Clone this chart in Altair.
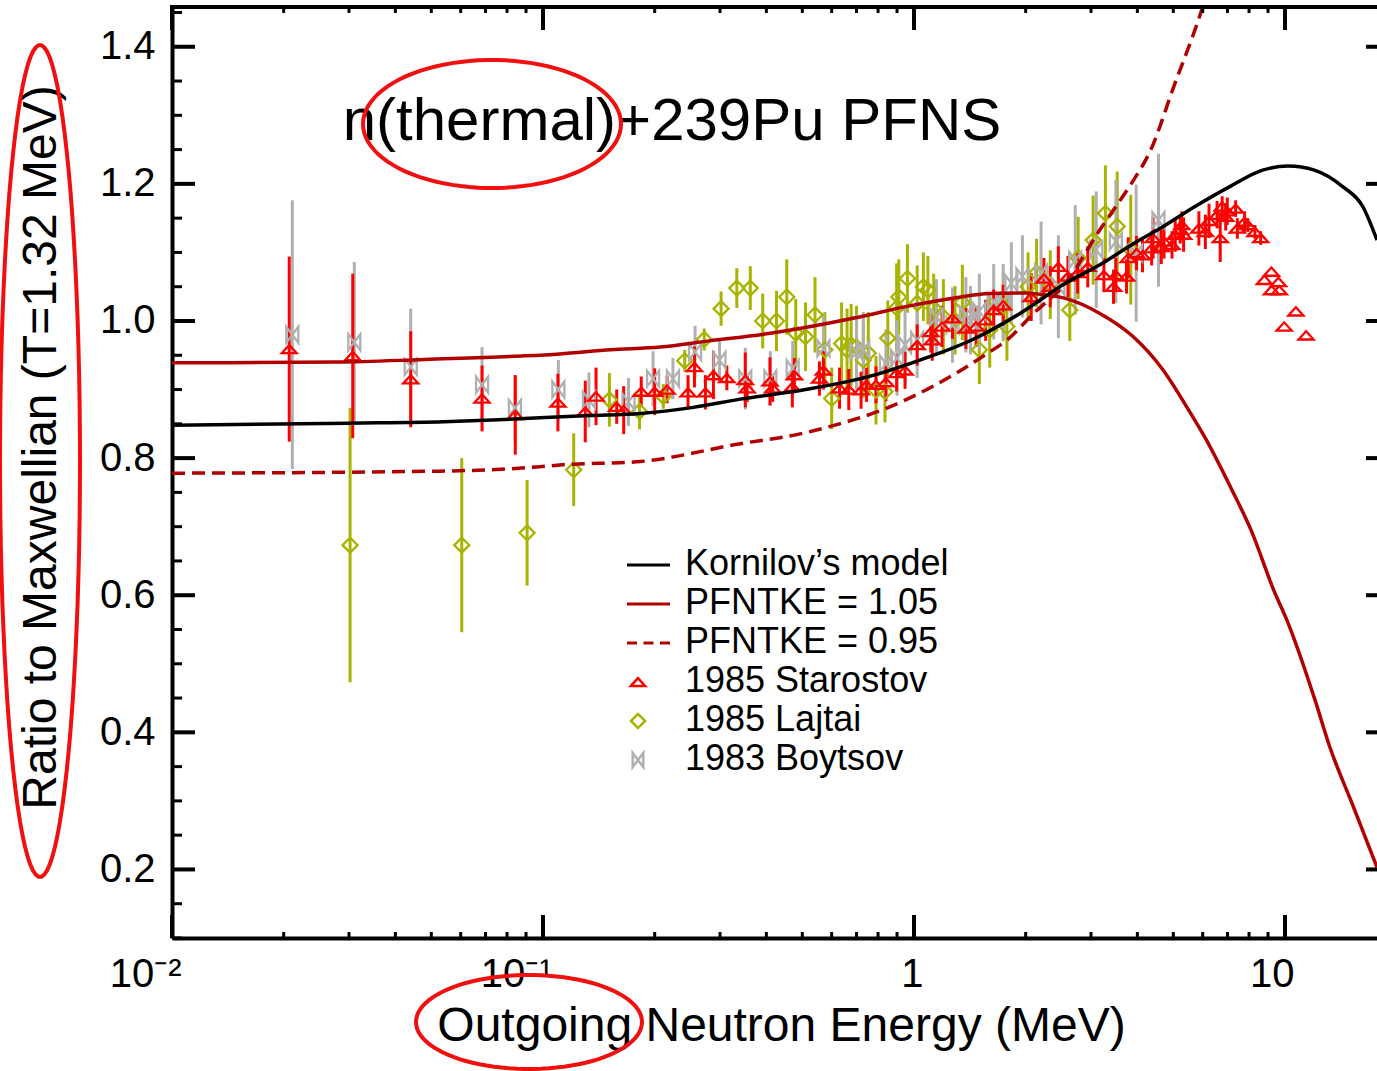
import math
import altair as alt
import pandas as pd

# ---------------- data ----------------
kornilov_E = [0.01, 0.03, 0.054, 0.076, 0.098, 0.134, 0.183, 0.254, 0.34, 0.51, 0.78, 1.0, 1.17, 1.44,
              1.93, 2.56, 3.17, 3.88, 4.7, 5.72, 7.1, 8.7, 10.2, 12.0, 14.3, 16.2, 17.7]
kornilov_R = [0.848, 0.851, 0.853, 0.856, 0.859, 0.862, 0.865, 0.874, 0.886, 0.900, 0.921, 0.940, 0.953, 0.973,
              1.011, 1.055, 1.082, 1.112, 1.138, 1.167, 1.196, 1.220, 1.226, 1.220, 1.196, 1.167, 1.118]

tke105_E = [0.01, 0.028, 0.048, 0.0877, 0.111, 0.152, 0.207, 0.28, 0.41, 0.70, 0.95, 1.30, 1.60, 2.0, 2.26, 2.56,
            3.17, 3.88, 4.67, 5.5, 6.1, 7.2, 8.1, 9.33, 10.2, 12.05, 13.2, 15.3, 17.7]
tke105_R = [0.939, 0.940, 0.944, 0.949, 0.952, 0.958, 0.962, 0.971, 0.982, 1.005, 1.021, 1.034, 1.040, 1.041, 1.038, 1.033,
            1.011, 0.978, 0.930, 0.870, 0.829, 0.753, 0.695, 0.607, 0.559, 0.447, 0.379, 0.291, 0.203]

tke095_E = [0.01, 0.0527, 0.096, 0.111, 0.183, 0.34, 0.49, 0.63, 0.80, 0.95, 1.30, 1.60, 1.78, 2.1,
            2.56, 3.17, 3.5, 3.88, 4.35, 5.0, 6.0, 6.5]
tke095_R = [0.778, 0.781, 0.787, 0.790, 0.795, 0.821, 0.835, 0.850, 0.868, 0.885, 0.924, 0.955, 0.972, 1.011,
            1.055, 1.133, 1.167, 1.203, 1.250, 1.340, 1.458, 1.52]

starostov_E = [0.0207, 0.0307, 0.044, 0.0685, 0.0842, 0.1097, 0.130, 0.139, 0.158, 0.165,
               0.184, 0.200, 0.216, 0.246, 0.256, 0.274, 0.288, 0.313, 0.351, 0.355,
               0.409, 0.416, 0.470, 0.476, 0.556, 0.570, 0.630, 0.667, 0.720, 0.745,
               0.790, 0.840, 0.898, 0.946, 1.02, 1.11, 1.12, 1.19, 1.27, 1.38,
               1.47, 1.56, 1.64, 1.74, 2.07, 2.24, 2.33, 2.45, 2.60, 2.76,
               2.94, 3.25, 3.45, 3.50, 3.74, 3.78, 3.98, 4.13, 4.37, 4.41,
               4.64, 4.72, 4.96, 5.06, 5.22, 5.27, 5.33, 5.86, 6.10, 6.24,
               6.56, 6.69, 6.77, 6.92, 6.99, 7.36, 7.44, 7.78, 7.94, 8.30,
               8.60, 8.80, 9.19, 9.20, 9.60, 9.65, 9.95, 10.7, 11.4]
starostov_R = [0.959, 0.949, 0.915, 0.887, 0.863, 0.881, 0.868, 0.890, 0.875, 0.870,
               0.897, 0.897, 0.900, 0.896, 0.933, 0.896, 0.921, 0.917, 0.914, 0.902,
               0.912, 0.902, 0.904, 0.921, 0.916, 0.928, 0.902, 0.900, 0.899, 0.907,
               0.907, 0.911, 0.924, 0.928, 0.965, 0.984, 0.972, 0.992, 1.004, 0.989,
               0.992, 1.001, 1.016, 1.023, 1.035, 1.062, 1.050, 1.079, 1.065, 1.070,
               1.079, 1.067, 1.050, 1.067, 1.065, 1.092, 1.099, 1.096, 1.106, 1.121,
               1.108, 1.116, 1.111, 1.126, 1.133, 1.140, 1.126, 1.135, 1.130, 1.146,
               1.155, 1.121, 1.167, 1.152, 1.160, 1.164, 1.135, 1.145, 1.140, 1.130,
               1.121, 1.060, 1.072, 1.045, 1.057, 1.045, 0.992, 1.014, 0.979]
starostov_err = [0.135, 0.12, 0.07, 0.048, 0.058, 0.042, 0.045, 0.042, 0.025, 0.035,
                 0.022, 0.034, 0.02, 0.025, 0.03, 0.025, 0.035, 0.018, 0.04, 0.02,
                 0.035, 0.02, 0.03, 0.025, 0.025, 0.028, 0.03, 0.03, 0.027, 0.025,
                 0.027, 0.028, 0.027, 0.027, 0.03, 0.03, 0.03, 0.03, 0.03, 0.03,
                 0.03, 0.03, 0.03, 0.03, 0.035, 0.03, 0.03, 0.03, 0.03, 0.03,
                 0.03, 0.025, 0.025, 0.025, 0.025, 0.03, 0.025, 0.025, 0.025, 0.03,
                 0.025, 0.025, 0.02, 0.025, 0.02, 0.02, 0.025, 0.025, 0.025, 0.025,
                 0.02, 0.035, 0.015, 0.02, 0.02, 0.012, 0.015, 0.015, 0.01, 0.01,
                 0.01, 0, 0, 0, 0, 0, 0, 0, 0]

lajtai_E = [0.0302, 0.0604, 0.0906, 0.121, 0.151, 0.182, 0.211, 0.241, 0.272, 0.302,
            0.333, 0.362, 0.391, 0.426, 0.454, 0.48, 0.51, 0.541, 0.575, 0.60,
            0.638, 0.66, 0.677, 0.70, 0.73, 0.753, 0.79, 0.835, 0.85, 0.898,
            0.91, 0.96, 1.02, 1.06, 1.09, 1.13, 1.20, 1.29, 1.35, 1.50,
            1.60, 1.74, 1.78, 2.03, 2.14, 2.33, 2.63, 2.77, 3.04, 3.28,
            3.53, 3.84]
lajtai_R = [0.673, 0.673, 0.691, 0.783, 0.885, 0.868, 0.890, 0.942, 0.973, 1.018,
            1.048, 1.048, 1.000, 1.000, 1.035, 0.982, 0.977, 1.009, 0.958, 0.887,
            0.967, 0.958, 0.965, 0.962, 0.943, 0.953, 0.899, 0.897, 0.975, 1.019,
            1.035, 1.062, 1.026, 1.050, 1.045, 1.019, 1.006, 1.001, 1.027, 0.958,
            0.987, 1.021, 0.992, 1.050, 1.070, 1.053, 1.016, 1.092, 1.118, 1.157,
            1.138, 1.104]
lajtai_err = [0.20, 0.127, 0.077, 0.053, 0.039, 0.026, 0.018, 0.016, 0.016, 0.025,
              0.029, 0.032, 0.04, 0.044, 0.055, 0.05, 0.05, 0.055, 0.055, 0.045,
              0.06, 0.06, 0.06, 0.06, 0.055, 0.06, 0.05, 0.045, 0.055, 0.065,
              0.055, 0.05, 0.055, 0.05, 0.05, 0.05, 0.055, 0.05, 0.055, 0.05,
              0.055, 0.05, 0.05, 0.05, 0.05, 0.05, 0.045, 0.06, 0.065, 0.07,
              0.08, 0.08]

boytsov_E = [0.0211, 0.031, 0.044, 0.0685, 0.084, 0.11, 0.133, 0.17, 0.198, 0.224,
             0.257, 0.299, 0.351, 0.41, 0.471, 0.57, 0.70, 0.73, 0.84, 0.90,
             0.946, 1.02, 1.15, 1.27, 1.38, 1.42, 1.50, 1.64, 1.74, 1.83,
             1.96, 2.20, 2.45, 2.72, 3.10, 3.50, 3.97, 4.56]
boytsov_R = [0.980, 0.969, 0.933, 0.907, 0.873, 0.900, 0.885, 0.882, 0.916, 0.916,
             0.955, 0.943, 0.916, 0.916, 0.931, 0.960, 0.955, 0.958, 0.938, 0.946,
             0.965, 0.972, 1.006, 0.994, 1.009, 1.001, 1.014, 1.028, 1.028, 1.055,
             1.065, 1.070, 1.050, 1.089, 1.104, 1.116, 1.099, 1.147]
boytsov_err = [0.196, 0.117, 0.085, 0.055, 0.048, 0.043, 0.04, 0.035, 0.04, 0.03,
               0.038, 0.03, 0.045, 0.04, 0.04, 0.05, 0.055, 0.055, 0.05, 0.055,
               0.055, 0.055, 0.055, 0.055, 0.055, 0.05, 0.055, 0.055, 0.055, 0.06,
               0.06, 0.075, 0.075, 0.08, 0.085, 0.09, 0.1, 0.097]

x_major = [0.01, 0.1, 1, 10]
x_major_labels = ["10\u207b\u00b2", "10\u207b\u00b9", "1", "10"]
x_minor = [0.02, 0.03, 0.04, 0.05, 0.06, 0.07, 0.08, 0.09,
           0.2, 0.3, 0.4, 0.5, 0.6, 0.7, 0.8, 0.9,
           2, 3, 4, 5, 6, 7, 8, 9]
y_major = [0.2, 0.4, 0.6, 0.8, 1.0, 1.2, 1.4]
y_minor = [0.1, 0.15, 0.25, 0.3, 0.35, 0.45, 0.5, 0.55, 0.65, 0.7, 0.75, 0.85, 0.9, 0.95,
           1.05, 1.1, 1.15, 1.25, 1.3, 1.35, 1.45]

title_text = "n(thermal)+239Pu PFNS"
x_title = "Outgoing Neutron Energy (MeV)"
y_title = "Ratio to Maxwellian (T=1.32 MeV)"
legend_names = ["Kornilov\u2019s model", "PFNTKE = 1.05", "PFNTKE = 0.95",
                "1985 Starostov", "1985 Lajtai", "1983 Boytsov"]

# ---------------- style ----------------
W, H = 1205, 931
FONT = "Liberation Sans"
BLACK = "#000000"
DRED = "#B00000"
STAR = "#FF0000"
LAJ = "#A8B400"
BOY = "#B0B0B0"
RED_ANN = "#F01010"
TRI = "M -1 0.55 L 0 -0.55 L 1 0.55 Z"
BOW = "M -0.75 -1 L 0.75 1 L 0.75 -1 L -0.75 1 Z"
DASH = [13, 7]
LW = 3.5

xs = alt.Scale(type="log", domain=[0.01, 17.7])
ys = alt.Scale(domain=[0.1, 1.458])

label_expr = " : ".join(
    [f"datum.value < {v * 3.1623:.6g} ? '{lab}'" for v, lab in zip(x_major[:-1], x_major_labels[:-1])]
) + f" : '{x_major_labels[-1]}'"

x_axis = alt.Axis(values=x_major, labelExpr=label_expr, labelFont=FONT, labelFontSize=40,
                  labelColor=BLACK, labelAlign="right", labelOffset=9, labelBaseline="alphabetic",
                  labelPadding=48, labelFlush=False, labelOverlap=False, ticks=False, tickSize=0,
                  domain=True, domainColor=BLACK, domainWidth=4, grid=False,
                  title=x_title, titleFont=FONT, titleFontSize=48, titleFontWeight="normal",
                  titleColor=BLACK, titleX=609, titleY=102, titleBaseline="alphabetic",
                  titleAlign="center")
y_axis = alt.Axis(values=y_major, format=".1f", labelFont=FONT, labelFontSize=40, labelColor=BLACK,
                  labelPadding=17, labelFlush=False, labelOverlap=False, ticks=False, tickSize=0,
                  domain=True, domainColor=BLACK, domainWidth=4, grid=False,
                  title=y_title, titleFont=FONT, titleFontSize=48, titleFontWeight="normal",
                  titleColor=BLACK, titleX=-117, titleY=440, titleBaseline="alphabetic",
                  titleAlign="center", titleAngle=270)


def df_curve(E, R):
    return pd.DataFrame({"E": E, "R": R})


def df_pts(E, R, err):
    rows = [{"E": e, "R": r, "lo": r - d, "hi": r + d} for e, r, d in zip(E, R, err)]
    return pd.DataFrame(rows)


def X():
    return alt.X("E:Q", scale=xs, axis=x_axis)


def Y(f="R"):
    return alt.Y(f"{f}:Q", scale=ys, axis=y_axis)


layers = []

# error bars
lajtai = df_pts(lajtai_E, lajtai_R, lajtai_err)
boytsov = df_pts(boytsov_E, boytsov_R, boytsov_err)
starostov = df_pts(starostov_E, starostov_R, starostov_err)

for d, col in [(lajtai, LAJ), (boytsov, BOY), (starostov, STAR)]:
    layers.append(alt.Chart(d).mark_rule(color=col, strokeWidth=3).encode(
        x=X(), y=Y("lo"), y2=alt.Y2("hi")))

layers.append(alt.Chart(lajtai).mark_point(shape="diamond", size=225, filled=False, color=LAJ,
                                          strokeWidth=2.3, opacity=1).encode(x=X(), y=Y()))
layers.append(alt.Chart(boytsov).mark_point(shape=BOW, size=256, filled=False, color=BOY,
                                           strokeWidth=2.3, opacity=1).encode(x=X(), y=Y()))
layers.append(alt.Chart(starostov).mark_point(shape=TRI, size=225, filled=False, color=STAR,
                                             strokeWidth=2.3, opacity=1).encode(x=X(), y=Y()))

# model curves
layers.append(alt.Chart(df_curve(tke095_E, tke095_R)).mark_line(
    color=DRED, strokeWidth=LW, strokeDash=DASH, clip=True, interpolate="monotone").encode(x=X(), y=Y()))
layers.append(alt.Chart(df_curve(tke105_E, tke105_R)).mark_line(
    color=DRED, strokeWidth=LW, clip=True, interpolate="monotone").encode(x=X(), y=Y()))
layers.append(alt.Chart(df_curve(kornilov_E, kornilov_R)).mark_line(
    color=BLACK, strokeWidth=LW, clip=True, interpolate="monotone").encode(x=X(), y=Y()))

# frame (top) and inward ticks
one = pd.DataFrame({"a": [0]})
layers.append(alt.Chart(one).mark_rule(color=BLACK, strokeWidth=4).encode(
    x=alt.value(-2), x2=alt.value(W), y=alt.value(0)))
xmaj = pd.DataFrame({"E": x_major})
xmin = pd.DataFrame({"E": x_minor})
ymaj = pd.DataFrame({"R": y_major})
ymin = pd.DataFrame({"R": y_minor})
layers.append(alt.Chart(xmaj).mark_rule(color=BLACK, strokeWidth=4).encode(
    x=X(), y=alt.value(H), y2=alt.value(H - 23)))
layers.append(alt.Chart(xmaj).mark_rule(color=BLACK, strokeWidth=4).encode(
    x=X(), y=alt.value(0), y2=alt.value(23)))
layers.append(alt.Chart(xmin).mark_rule(color=BLACK, strokeWidth=3).encode(
    x=X(), y=alt.value(H), y2=alt.value(H - 6)))
layers.append(alt.Chart(xmin).mark_rule(color=BLACK, strokeWidth=3).encode(
    x=X(), y=alt.value(0), y2=alt.value(6)))
layers.append(alt.Chart(ymaj).mark_rule(color=BLACK, strokeWidth=4).encode(
    y=Y(), x=alt.value(0), x2=alt.value(23)))
layers.append(alt.Chart(ymaj).mark_rule(color=BLACK, strokeWidth=4).encode(
    y=Y(), x=alt.value(W - 11), x2=alt.value(W)))
layers.append(alt.Chart(ymin).mark_rule(color=BLACK, strokeWidth=3).encode(
    y=Y(), x=alt.value(0), x2=alt.value(10)))

# title inside plot
layers.append(alt.Chart(one).mark_text(font=FONT, fontSize=60, color=BLACK, align="center",
                                       baseline="alphabetic").encode(
    x=alt.value(500), y=alt.value(133), text=alt.value(title_text)))

# legend
LX0, LX1, LMX, LTX = 455, 498, 466, 513
rows = [558, 597, 636, 675, 714, 753]
leg_styles = [("line", BLACK, None), ("line", DRED, None), ("line", DRED, [10, 6.5]),
              ("pt", STAR, TRI), ("pt", LAJ, "diamond"), ("pt", BOY, BOW)]
for name, ry, (kind, col, extra) in zip(legend_names, rows, leg_styles):
    if kind == "line":
        kw = dict(color=col, strokeWidth=3)
        if extra:
            kw["strokeDash"] = extra
        layers.append(alt.Chart(one).mark_rule(**kw).encode(
            x=alt.value(LX0), x2=alt.value(LX1), y=alt.value(ry)))
    else:
        layers.append(alt.Chart(one).mark_point(shape=extra, size=200,
                                                filled=False, color=col, strokeWidth=2.5,
                                                opacity=1).encode(
            x=alt.value(LMX), y=alt.value(ry)))
    layers.append(alt.Chart(one).mark_text(font=FONT, fontSize=36, color=BLACK, align="left",
                                           baseline="middle").encode(
        x=alt.value(LTX), y=alt.value(ry - 1), text=alt.value(name)))


# hand-drawn red ellipses (annotations)
def ellipse_path(w, h, n=90):
    m = max(w, h)
    a, b = w / m, h / m
    pts = [(a * math.cos(2 * math.pi * i / n), b * math.sin(2 * math.pi * i / n)) for i in range(n)]
    return "M " + " L ".join(f"{px:.4f} {py:.4f}" for px, py in pts) + " Z", m * m


for cx, cy, ew, eh in [(-132, 454, 80, 832), (320, 117, 258, 128), (357, 1015, 226, 94)]:
    path, size = ellipse_path(ew, eh)
    layers.append(alt.Chart(one).mark_point(shape=path, size=size, filled=False, color=RED_ANN,
                                            strokeWidth=4, opacity=1).encode(
        x=alt.value(cx), y=alt.value(cy)))

chart = alt.layer(*layers).properties(
    width=W, height=H,
    padding={"left": 172, "top": 7, "right": 0, "bottom": 133},
    autosize=alt.AutoSizeParams(type="none"),
).configure_view(stroke=None).configure(background="white")

chart.save("out.html", embed_options={"renderer": "svg", "actions": False})
